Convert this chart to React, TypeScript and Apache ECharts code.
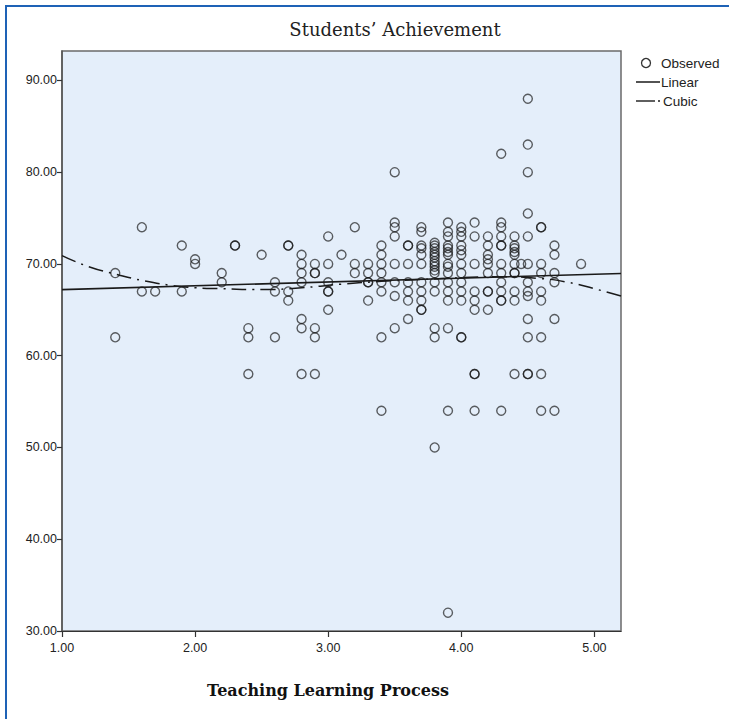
import React, { useEffect, useRef } from "react";
import * as echarts from "echarts";

const titleText = "Students’ Achievement";
const xAxisName = "Teaching Learning Process";
const legendNames = ["Observed", "Linear", "Cubic"];
const xTicks = [1, 2, 3, 4, 5];
const yTicks = [30, 40, 50, 60, 70, 80, 90];

// observed points [Teaching Learning Process, Students' Achievement]
const observed: [number, number][] = [
  [1.4, 69], [1.4, 62],
  [1.6, 74], [1.6, 67],
  [1.7, 67],
  [1.9, 72], [1.9, 67],
  [2.0, 70.5], [2.0, 70],
  [2.2, 69], [2.2, 68],
  [2.3, 72], [2.3, 72],
  [2.4, 63], [2.4, 62], [2.4, 58],
  [2.5, 71],
  [2.6, 68], [2.6, 67], [2.6, 62],
  [2.7, 72], [2.7, 72], [2.7, 67], [2.7, 66],
  [2.8, 71], [2.8, 70], [2.8, 69], [2.8, 68], [2.8, 64], [2.8, 63], [2.8, 58],
  [2.9, 70], [2.9, 69], [2.9, 69], [2.9, 63], [2.9, 62], [2.9, 58],
  [3.0, 73], [3.0, 70], [3.0, 68], [3.0, 67], [3.0, 67], [3.0, 65],
  [3.1, 71],
  [3.2, 74], [3.2, 70], [3.2, 69],
  [3.3, 70], [3.3, 69], [3.3, 68], [3.3, 68], [3.3, 66],
  [3.4, 72], [3.4, 71], [3.4, 70], [3.4, 69], [3.4, 68], [3.4, 67], [3.4, 62], [3.4, 54],
  [3.5, 80], [3.5, 74.5], [3.5, 74], [3.5, 73], [3.5, 70], [3.5, 68], [3.5, 66.5], [3.5, 63],
  [3.6, 72], [3.6, 72], [3.6, 70], [3.6, 68], [3.6, 67], [3.6, 66], [3.6, 64],
  [3.7, 74], [3.7, 73.5], [3.7, 72], [3.7, 71.7], [3.7, 71], [3.7, 70], [3.7, 68], [3.7, 67], [3.7, 66], [3.7, 65], [3.7, 65],
  [3.8, 72.3], [3.8, 72], [3.8, 71.7], [3.8, 71.3], [3.8, 71], [3.8, 70.7], [3.8, 70.3], [3.8, 70], [3.8, 69.7], [3.8, 69.3], [3.8, 69], [3.8, 68], [3.8, 67], [3.8, 63], [3.8, 62], [3.8, 50],
  [3.9, 74.5], [3.9, 73.5], [3.9, 73], [3.9, 72], [3.9, 71.7], [3.9, 71.3], [3.9, 71], [3.9, 70], [3.9, 69.7], [3.9, 69], [3.9, 68], [3.9, 67], [3.9, 66], [3.9, 63], [3.9, 54], [3.9, 32],
  [4.0, 74], [4.0, 73.5], [4.0, 73], [4.0, 72], [4.0, 71.5], [4.0, 71], [4.0, 70], [4.0, 69], [4.0, 68], [4.0, 67], [4.0, 66], [4.0, 62], [4.0, 62],
  [4.1, 74.5], [4.1, 73], [4.1, 70], [4.1, 67], [4.1, 66], [4.1, 65], [4.1, 58], [4.1, 58], [4.1, 54],
  [4.2, 73], [4.2, 72], [4.2, 71], [4.2, 70.5], [4.2, 70], [4.2, 69], [4.2, 67], [4.2, 67], [4.2, 65],
  [4.3, 82], [4.3, 74.5], [4.3, 74], [4.3, 73], [4.3, 72], [4.3, 72], [4.3, 70], [4.3, 69], [4.3, 68], [4.3, 67], [4.3, 66], [4.3, 66], [4.3, 54],
  [4.4, 73], [4.4, 72], [4.4, 71.7], [4.4, 71.3], [4.4, 71], [4.4, 70], [4.4, 69], [4.4, 69], [4.4, 67], [4.4, 66], [4.4, 58],
  [4.45, 70],
  [4.5, 88], [4.5, 83], [4.5, 80], [4.5, 75.5], [4.5, 73], [4.5, 70], [4.5, 68], [4.5, 67], [4.5, 66.5], [4.5, 64], [4.5, 62], [4.5, 58], [4.5, 58],
  [4.6, 74], [4.6, 74], [4.6, 70], [4.6, 69], [4.6, 67], [4.6, 66], [4.6, 62], [4.6, 58], [4.6, 54],
  [4.7, 72], [4.7, 71], [4.7, 69], [4.7, 68], [4.7, 64], [4.7, 54],
  [4.9, 70],
];

// fit lines
const linearFit: [number, number][] = [[1.0, 67.2], [5.2, 68.95]];
const cubicFit: [number, number][] = [
  [1.0, 70.9], [1.2, 69.7], [1.4, 68.9], [1.6, 68.2], [1.8, 67.7], [2.0, 67.4],
  [2.2, 67.3], [2.5, 67.2], [2.8, 67.4], [3.1, 67.8], [3.4, 68.1], [3.7, 68.3],
  [4.0, 68.5], [4.3, 68.6], [4.6, 68.4], [4.8, 68.0], [5.0, 67.3], [5.2, 66.5],
];

const ink = "#222";
const sans = "Liberation Sans, Arial, sans-serif";
const serif = "DejaVu Serif, serif";

export default function App() {
  const ref = useRef<HTMLDivElement>(null);
  useEffect(() => {
    const chart = echarts.init(ref.current!, null, { renderer: "svg" });
    chart.setOption({
      animation: false,
      backgroundColor: "#fff",
      grid: {
        left: 62, right: 108, top: 51, bottom: 88,
        show: true, backgroundColor: "#e4eefa", borderColor: "#6a6a6a", borderWidth: 1.5,
      },
      xAxis: {
        type: "value", min: 1, max: 5.2,
        splitLine: { show: false },
        axisLine: { show: true, onZero: false, lineStyle: { color: "#333", width: 1.2 } },
        axisTick: { show: true, length: 6, customValues: xTicks, lineStyle: { color: "#333", width: 1.2 } },
        axisLabel: {
          customValues: xTicks, formatter: (v: number) => v.toFixed(2),
          color: ink, fontFamily: sans, fontSize: 12.5, margin: 10,
        },
      },
      yAxis: {
        type: "value", min: 30, max: 93.2,
        splitLine: { show: false },
        axisLine: { show: true, onZero: false, lineStyle: { color: "#555", width: 1.5 } },
        axisTick: { show: true, length: 5, customValues: yTicks, lineStyle: { color: "#333", width: 1.2 } },
        axisLabel: {
          customValues: yTicks, formatter: (v: number) => v.toFixed(2),
          color: ink, fontFamily: sans, fontSize: 12.5, margin: 5,
        },
      },
      series: [
        {
          name: legendNames[0], type: "scatter", data: observed, symbol: "circle", symbolSize: 9,
          itemStyle: { color: "rgba(0,0,0,0)", borderColor: "rgba(20,20,20,0.85)", borderWidth: 1.4 },
          z: 3,
        },
        {
          name: legendNames[1], type: "line", data: linearFit, symbol: "none",
          lineStyle: { color: "#1a1a1a", width: 1.6 }, z: 4,
        },
        {
          name: legendNames[2], type: "line", data: cubicFit, symbol: "none", smooth: true,
          lineStyle: { color: "#1a1a1a", width: 1.5, type: [15, 6, 2, 6] }, z: 4,
        },
      ],
      graphic: [
        {
          type: "rect", shape: { x: 6, y: 6, width: 780, height: 780 },
          style: { fill: "none", stroke: "#1e62b6", lineWidth: 2 }, silent: true,
        },
        {
          type: "text", x: 395, y: 29,
          style: { text: titleText, font: `18px ${serif}`, fill: ink, align: "center", verticalAlign: "middle" },
        },
        {
          type: "text", x: 328, y: 690,
          style: { text: xAxisName, font: `bold 16px ${serif}`, fill: "#111", align: "center", verticalAlign: "middle" },
        },
        {
          type: "circle", shape: { cx: 646, cy: 63, r: 4.5 },
          style: { fill: "none", stroke: "#333", lineWidth: 1.3 },
        },
        {
          type: "text", x: 661, y: 63,
          style: { text: legendNames[0], font: `13.5px ${sans}`, fill: ink, verticalAlign: "middle" },
        },
        {
          type: "line", shape: { x1: 636, y1: 82, x2: 660, y2: 82 },
          style: { stroke: "#1a1a1a", lineWidth: 1.5 },
        },
        {
          type: "text", x: 661, y: 82,
          style: { text: legendNames[1], font: `13.5px ${sans}`, fill: ink, verticalAlign: "middle" },
        },
        {
          type: "line", shape: { x1: 636, y1: 101, x2: 655, y2: 101 },
          style: { stroke: "#1a1a1a", lineWidth: 1.4 },
        },
        {
          type: "line", shape: { x1: 658, y1: 101, x2: 660, y2: 101 },
          style: { stroke: "#1a1a1a", lineWidth: 1.4 },
        },
        {
          type: "text", x: 663, y: 101,
          style: { text: legendNames[2], font: `13.5px ${sans}`, fill: ink, verticalAlign: "middle" },
        },
      ],
    });
    return () => chart.dispose();
  }, []);
  return (
    <div
      ref={ref}
      style={{ position: "fixed", left: 0, top: 0, width: 729, height: 719, background: "#fff" }}
    />
  );
}
